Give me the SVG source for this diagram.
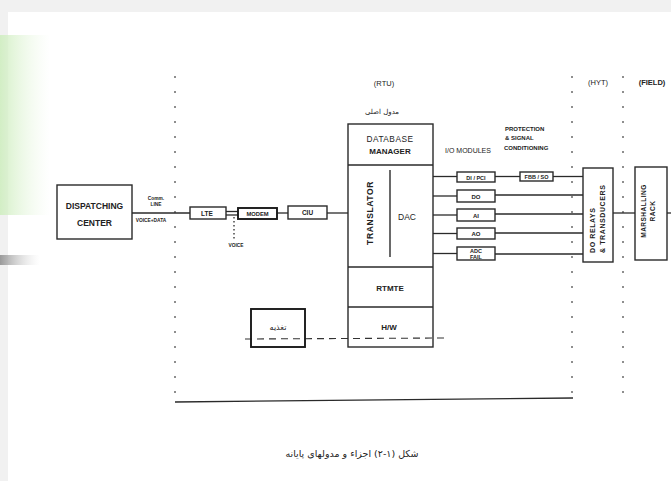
<svg xmlns="http://www.w3.org/2000/svg" width="671" height="481" viewBox="0 0 671 481">
<defs>
<linearGradient id="glow" x1="0" y1="0" x2="1" y2="0">
<stop offset="0" stop-color="#cfeec0" stop-opacity="0.9"/>
<stop offset="1" stop-color="#eaf7e2" stop-opacity="0"/>
</linearGradient>
<linearGradient id="band" x1="0" y1="0" x2="1" y2="0">
<stop offset="0" stop-color="#9a9a9a"/>
<stop offset="1" stop-color="#dddddd" stop-opacity="0"/>
</linearGradient>
<style>
.bx{fill:none;stroke:#2a2a2a;stroke-width:1.4}
.bk{fill:none;stroke:#1a1a1a;stroke-width:1.9}
.ln{fill:none;stroke:#2a2a2a;stroke-width:1.3}
.dv{fill:none;stroke:#444;stroke-width:1.2;stroke-dasharray:2 13}
.dh{fill:none;stroke:#333;stroke-width:1.1;stroke-dasharray:7 5}
.t{font-family:"Liberation Sans",Arial,sans-serif;fill:#222;text-anchor:middle}
.s{text-anchor:start}
.b{font-weight:bold}
.ar{font-family:"DejaVu Sans",sans-serif;fill:#222;text-anchor:middle}
</style>
</defs>
<rect width="671" height="481" fill="#f1f1f1"/>
<rect x="8" y="12" width="663" height="469" fill="#ffffff"/>
<rect x="0" y="35" width="50" height="180" fill="url(#glow)"/>
<rect x="0" y="255" width="40" height="10" fill="url(#band)"/>

<g id="boundaries">
<line class="dv" x1="175" y1="76" x2="175" y2="400"/>
<line class="dv" x1="572" y1="76" x2="572" y2="400"/>
<line class="dv" x1="623" y1="76" x2="623" y2="400"/>
<text class="t" x="384" y="86" font-size="7.5">(RTU)</text>
<text class="t" x="598" y="85" font-size="7.5">(HYT)</text>
<text class="t b" x="652" y="85" font-size="7.5">(FIELD)</text>
</g>

<g id="connectors">
<line class="ln" x1="132" y1="213" x2="190" y2="213"/>
<line class="ln" x1="226" y1="211.5" x2="238" y2="211.5"/>
<line class="ln" x1="226" y1="215" x2="238" y2="215"/>
<line class="ln" x1="234" y1="217" x2="234" y2="240" stroke-dasharray="1.5 2.5"/>
<line class="ln" x1="277" y1="213" x2="288" y2="213"/>
<line class="ln" x1="327" y1="213" x2="348" y2="213"/>
<line class="ln" x1="433" y1="176.5" x2="457" y2="176.5"/>
<line class="ln" x1="433" y1="196" x2="457" y2="196"/>
<line class="ln" x1="433" y1="215" x2="457" y2="215"/>
<line class="ln" x1="433" y1="233.5" x2="457" y2="233.5"/>
<line class="ln" x1="433" y1="253.5" x2="457" y2="253.5"/>
<line class="ln" x1="495" y1="176.5" x2="520" y2="176.5"/>
<line class="ln" x1="553" y1="176.5" x2="583" y2="176.5"/>
<line class="ln" x1="495" y1="195" x2="583" y2="195"/>
<line class="ln" x1="495" y1="214" x2="583" y2="214"/>
<line class="ln" x1="495" y1="233" x2="583" y2="233"/>
<line class="ln" x1="495" y1="254" x2="583" y2="254"/>
<line class="ln" x1="613" y1="213" x2="635" y2="213"/>
<line class="ln" x1="667" y1="213" x2="671" y2="213"/>
<line class="dh" x1="245" y1="339" x2="445" y2="338"/>
<line class="ln" x1="175" y1="402" x2="573" y2="398" stroke-width="1.6"/>
</g>

<g id="dispatching-center">
<rect class="bx" x="57" y="185" width="75" height="54"/>
<text class="t b" x="94.5" y="208.5" font-size="8.5">DISPATCHING</text>
<text class="t b" x="94.5" y="226" font-size="8.5">CENTER</text>
</g>
<g id="comm-line-label">
<text class="t b" x="156" y="200" font-size="4.8">Comm.</text>
<text class="t b" x="156" y="206" font-size="4.8">LINE</text>
<text class="t b" x="151" y="222" font-size="4.8">VOICE+DATA</text>
</g>
<g id="lte">
<rect class="bx" x="190" y="207" width="36" height="12"/>
<text class="t b" x="207" y="215.5" font-size="6.5">LTE</text>
</g>
<g id="voice">
<text class="t b" x="236" y="247" font-size="4.8">VOICE</text>
</g>
<g id="modem">
<rect class="bk" x="238" y="208" width="39" height="11"/>
<text class="t b" x="257.5" y="215.7" font-size="5.8">MODEM</text>
</g>
<g id="ciu">
<rect class="bx" x="288" y="206" width="39" height="13"/>
<text class="t b" x="307.5" y="215" font-size="6.5">CIU</text>
</g>

<g id="rtu-main-module">
<text class="ar" x="382" y="114" font-size="7">مدول اصلی</text>
<rect class="bx" x="348" y="124" width="85" height="223"/>
<line class="bx" x1="348" y1="165" x2="433" y2="165"/>
<line class="bx" x1="348" y1="267" x2="433" y2="267"/>
<line class="bx" x1="348" y1="307" x2="433" y2="307"/>
<line class="bx" x1="390" y1="170" x2="390" y2="257"/>
<text class="t" x="390" y="142" font-size="8.3" letter-spacing="0.5">DATABASE</text>
<text class="t b" x="390" y="154" font-size="8">MANAGER</text>
<text class="t b" x="0" y="0" font-size="8.5" letter-spacing="0.6" transform="translate(373 213) rotate(-90)">TRANSLATOR</text>
<text class="t" x="407" y="220" font-size="8.5">DAC</text>
<text class="t b" x="390" y="291" font-size="8">RTMTE</text>
<text class="t b" x="389" y="330" font-size="8">H/W</text>
</g>

<g id="io-modules">
<text class="t" x="468" y="153" font-size="7">I/O MODULES</text>
<rect class="bx" x="457" y="172" width="38" height="10"/>
<text class="t b" x="476" y="179.5" font-size="5.5">DI / PCI</text>
<rect class="bx" x="457" y="190" width="38" height="12"/>
<text class="t b" x="476" y="198.5" font-size="6">DO</text>
<rect class="bx" x="457" y="209" width="38" height="12"/>
<text class="t b" x="476" y="217.5" font-size="6">AI</text>
<rect class="bx" x="457" y="228" width="38" height="11"/>
<text class="t b" x="476" y="236" font-size="6">AO</text>
<rect class="bx" x="457" y="247" width="38" height="13"/>
<text class="t b" x="476" y="253" font-size="5.5">ADC</text>
<text class="t b" x="476" y="259" font-size="5.5">FAIL</text>
</g>

<g id="protection">
<text class="t b s" x="505" y="131" font-size="6">PROTECTION</text>
<text class="t b s" x="505" y="140" font-size="6">&amp; SIGNAL</text>
<text class="t b s" x="504" y="150" font-size="6">CONDITIONING</text>
<rect class="bx" x="520" y="172" width="33" height="9"/>
<text class="t b" x="536.5" y="179" font-size="5.5">FBB / SO</text>
</g>

<g id="do-relays">
<rect class="bx" x="583" y="168" width="30" height="94"/>
<text class="t b s" x="0" y="0" font-size="7" letter-spacing="0.6" transform="translate(595 253) rotate(-90)">DO RELAYS</text>
<text class="t b s" x="0" y="0" font-size="7" letter-spacing="0.6" transform="translate(605 253) rotate(-90)">&amp; TRANSDUCERS</text>
</g>

<g id="marshalling-rack">
<rect class="bx" x="635" y="167" width="32" height="93"/>
<text class="t b" x="0" y="0" font-size="6.5" letter-spacing="0.5" transform="translate(646 211) rotate(-90)">MARSHALLING</text>
<text class="t b" x="0" y="0" font-size="6.5" letter-spacing="0.5" transform="translate(655 211) rotate(-90)">RACK</text>
</g>

<g id="power-supply">
<rect class="bk" x="251" y="309" width="54" height="38"/>
<text class="ar" x="278" y="330" font-size="8">تغذیه</text>
</g>

<g id="caption">
<text class="ar" x="352" y="457" font-size="9.5">شکل (١-٢) اجزاء و مدولهای پایانه</text>
</g>
</svg>
